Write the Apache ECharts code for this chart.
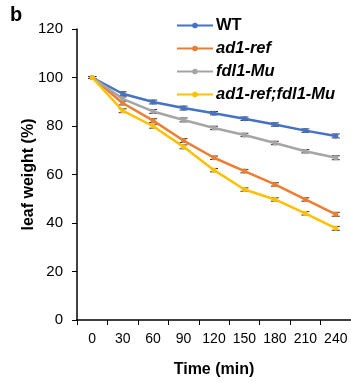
<!DOCTYPE html>
<html>
<head>
<meta charset="utf-8">
<script src="https://cdn.jsdelivr.net/npm/echarts@6/dist/echarts.min.js"></script>
<style>
  html, body { margin: 0; padding: 0; background: #fff; }
  #chart { width: 351px; height: 383px; }
</style>
</head>
<body>
<div id="chart"></div>
<script>
const times = ['0', '30', '60', '90', '120', '150', '180', '210', '240'];
const wt = [100, 93.3, 89.9, 87.4, 85.3, 83.0, 80.6, 78.1, 75.9];
const ad1 = [100, 89.5, 82.2, 74.0, 66.9, 61.4, 55.9, 49.7, 43.6];
const fdl1 = [100, 91.2, 86.0, 82.5, 79.2, 76.3, 73.0, 69.6, 66.9];
const dbl = [100, 86.3, 79.9, 71.4, 61.8, 53.8, 49.7, 44.0, 37.8];
const errs = [0.4, 0.8, 0.8, 0.8, 0.7, 0.7, 0.7, 0.7, 0.8];

const chart = echarts.init(document.getElementById('chart'));

const lineSeries = (name, data, color) => ({
  name: name,
  type: 'line',
  data: data,
  symbol: 'circle',
  symbolSize: 5,
  z: 3,
  lineStyle: { color: color, width: 2.5 },
  itemStyle: { color: color }
});

// small error-bar caps at each point
const errSeries = (data) => ({
  type: 'custom',
  z: 2,
  silent: true,
  data: data.map((v, i) => [i, v - errs[i], v + errs[i]]),
  renderItem: (params, api) => {
    const lo = api.coord([api.value(0), api.value(1)]);
    const hi = api.coord([api.value(0), api.value(2)]);
    const w = 4;
    const st = { stroke: '#333', lineWidth: 1 };
    return {
      type: 'group',
      children: [
        { type: 'line', shape: { x1: lo[0], y1: lo[1], x2: hi[0], y2: hi[1] }, style: st },
        { type: 'line', shape: { x1: hi[0] - w, y1: hi[1], x2: hi[0] + w, y2: hi[1] }, style: st },
        { type: 'line', shape: { x1: lo[0] - w, y1: lo[1], x2: lo[0] + w, y2: lo[1] }, style: st }
      ]
    };
  }
});

chart.setOption({
  animation: false,
  textStyle: { fontFamily: 'Liberation Sans, Arial, sans-serif' },
  title: {
    text: 'b',
    left: 5,
    top: 0,
    textStyle: { fontSize: 20, fontWeight: 'bold', color: '#000' }
  },
  legend: {
    orient: 'vertical',
    left: 172,
    top: 12,
    itemGap: 6,
    itemWidth: 36,
    itemHeight: 18,
    icon: 'path://M0,8 L36,8 L36,10 L0,10 Z M18,6.2 A2.8,2.8 0 1,1 17.99,6.2 Z',
    textStyle: { fontSize: 16.5, fontWeight: 'bold', color: '#000', padding: [0, 0, 0, -2] },
    data: [
      { name: 'WT' },
      { name: 'ad1-ref', textStyle: { fontStyle: 'italic' } },
      { name: 'fdl1-Mu', textStyle: { fontStyle: 'italic' } },
      { name: 'ad1-ref;fdl1-Mu', textStyle: { fontStyle: 'italic' } }
    ]
  },
  grid: { left: 77, right: 0, top: 29, bottom: 62 },
  xAxis: {
    type: 'category',
    data: times,
    boundaryGap: true,
    name: 'Time (min)',
    nameLocation: 'middle',
    nameGap: 42,
    nameMoveOverlap: false,
    nameTextStyle: { fontSize: 16, fontWeight: 'bold', color: '#000' },
    axisLine: { lineStyle: { color: '#000', width: 1.5 } },
    axisTick: { show: true, alignWithLabel: false, length: 5, lineStyle: { color: '#000' } },
    axisLabel: { fontSize: 14, color: '#000', margin: 12, interval: 0 }
  },
  yAxis: {
    type: 'value',
    min: 0,
    max: 120,
    interval: 20,
    name: 'leaf weight (%)',
    nameLocation: 'middle',
    nameGap: 40,
    nameMoveOverlap: false,
    nameTextStyle: { fontSize: 16, fontWeight: 'bold', color: '#000' },
    axisLine: { show: true, lineStyle: { color: '#000', width: 1.5 } },
    axisTick: { show: true, length: 5, lineStyle: { color: '#000' } },
    axisLabel: { fontSize: 15, color: '#000', margin: 14 },
    splitLine: { show: false }
  },
  series: [
    errSeries(wt), errSeries(ad1), errSeries(fdl1), errSeries(dbl),
    lineSeries('WT', wt, '#4472C4'),
    lineSeries('ad1-ref', ad1, '#ED7D31'),
    lineSeries('fdl1-Mu', fdl1, '#A5A5A5'),
    lineSeries('ad1-ref;fdl1-Mu', dbl, '#FFC000')
  ]
});
</script>
</body>
</html>
